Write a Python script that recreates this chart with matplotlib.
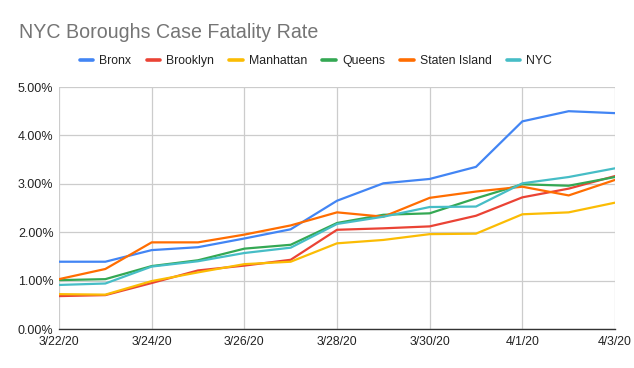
import matplotlib
matplotlib.use("Agg")
import matplotlib.pyplot as plt
from matplotlib.ticker import FuncFormatter

dates = ["3/22/20", "3/23/20", "3/24/20", "3/25/20", "3/26/20", "3/27/20", "3/28/20",
         "3/29/20", "3/30/20", "3/31/20", "4/1/20", "4/2/20", "4/3/20"]
bronx = [1.39, 1.39, 1.63, 1.69, 1.87, 2.06, 2.65, 3.01, 3.10, 3.35, 4.29, 4.50, 4.46]
brooklyn = [0.68, 0.70, 0.95, 1.21, 1.31, 1.43, 2.05, 2.08, 2.12, 2.34, 2.72, 2.90, 3.16]
manhattan = [0.72, 0.71, 0.99, 1.17, 1.34, 1.39, 1.77, 1.84, 1.96, 1.97, 2.37, 2.41, 2.61]
queens = [1.01, 1.03, 1.30, 1.42, 1.66, 1.74, 2.19, 2.36, 2.39, 2.70, 2.99, 2.96, 3.14]
staten = [1.03, 1.24, 1.79, 1.79, 1.95, 2.14, 2.41, 2.32, 2.71, 2.84, 2.94, 2.76, 3.08]
nyc = [0.91, 0.94, 1.29, 1.40, 1.57, 1.68, 2.17, 2.32, 2.52, 2.53, 3.01, 3.14, 3.32]

series = [("Bronx", bronx, "#4285F4"), ("Brooklyn", brooklyn, "#EA4335"),
          ("Manhattan", manhattan, "#FBBC04"), ("Queens", queens, "#34A853"),
          ("Staten Island", staten, "#FF6D01"), ("NYC", nyc, "#46BDC6")]

plt.rcParams['font.family'] = ['Liberation Sans', 'DejaVu Sans']

fig = plt.figure(figsize=(6.34, 3.68), dpi=100)
ax = fig.add_axes([59/634, 1 - 329/368, (615-59)/634, (329-87)/368])

x = list(range(len(dates)))
for name, vals, col in series:
    ax.plot(x, [v/100 for v in vals], color=col, lw=1.6, label=name, solid_capstyle='round')

ax.set_xlim(0, len(dates) - 1)
ax.set_ylim(0, 0.05)
ax.set_yticks([0, 0.01, 0.02, 0.03, 0.04, 0.05])
ax.yaxis.set_major_formatter(FuncFormatter(lambda v, p: f"{v*100:.2f}%"))
ax.set_xticks(x[::2])
ax.set_xticklabels(dates[::2])
ax.grid(True, color="#cccccc", lw=0.9)
ax.set_axisbelow(True)
for s in ["top", "right", "left"]:
    ax.spines[s].set_visible(False)
ax.spines["bottom"].set_color("#333333")
ax.spines["bottom"].set_linewidth(1.0)
ax.tick_params(axis='y', length=0, labelsize=9, colors="#222222", pad=4)
ax.tick_params(axis='x', length=0, labelsize=8.8, colors="#222222", pad=5)

fig.text(19/634, 1 - 38/368, "NYC Boroughs Case Fatality Rate", fontsize=14.1,
         color="#757575", va="baseline", ha="left")
fig.legend(loc="center", bbox_to_anchor=(316/634, 1 - 61/368), ncol=6, frameon=False,
           fontsize=8.8, handlelength=1.1, handletextpad=0.5, columnspacing=1.25,
           labelcolor="#222222")
for line in fig.legends[0].get_lines():
    line.set_linewidth(2.6)

fig.savefig("out.png", dpi=100)
